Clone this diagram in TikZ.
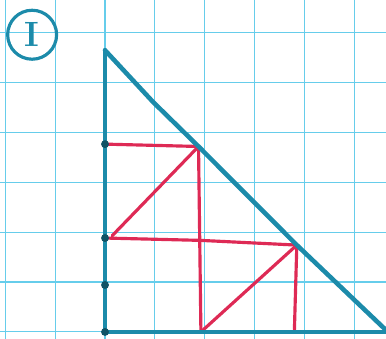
\documentclass[tikz,border=0pt]{standalone}
\usepackage{tikz}
\usetikzlibrary{calc}

\definecolor{gridblue}{HTML}{66CDEB}
\definecolor{penteal}{HTML}{1C8BAA}
\definecolor{penred}{HTML}{DE2A55}

\begin{document}
\begin{tikzpicture}[
  x=0.96cm, y=0.94cm,
  paper/.style={gridblue, line width=0.6pt},
  leg/.style={penteal, line width=2.6pt, line cap=round, line join=round},
  cut/.style={penred, line width=1.8pt, line cap=round},
  tick/.style={circle, fill=penteal!60!black, inner sep=0pt, minimum size=4.5pt},
]
\useasboundingbox (-2.19,-0.15) rectangle (5.86,7.07);
\fill[white] (-2.19,-0.15) rectangle (5.86,7.07);
\draw[paper] (-2.19,-0.15) grid (5.86,7.07);

% triangle corners and points on the sides
\coordinate (top) at (0,6);
\coordinate (bl) at (0,0);
\coordinate (p4) at (0,4);
\coordinate (p2) at (0,2);
\coordinate (p1) at (0,1);
\coordinate (h1) at (1.95,3.95);
\coordinate (h2) at (4.0,1.85);
\coordinate (b1) at (2.0,0);
\coordinate (b2) at (3.95,0.05);
\coordinate (q2) at (2.0,1.95);

% red pieces
\draw[cut] (p4) -- (h1);
\draw[cut] (h1) -- (b1);
\draw[cut] (h1) -- ($(p2)+(0.15,0.05)$);
\draw[cut] (p2) -- (q2) -- (h2);
\draw[cut] (h2) -- (b2);
\draw[cut] (h2) -- (b1);

% big triangle
\draw[leg] (top) -- (bl) -- (5.9,0);
\draw[leg] (top) -- (1.0,4.9) -- (h1) -- (h2) -- (5.9,0);

\foreach \p in {p4,p2,p1,bl}
  \node[tick] at (\p) {};

% label
\node[circle, draw=penteal, line width=1.8pt, minimum size=0.98cm,
      inner sep=0pt, text=penteal, font=\bfseries\fontsize{20}{20}\selectfont]
      (lbl) at (-1.52,6.33) {I};
\end{tikzpicture}
\end{document}
